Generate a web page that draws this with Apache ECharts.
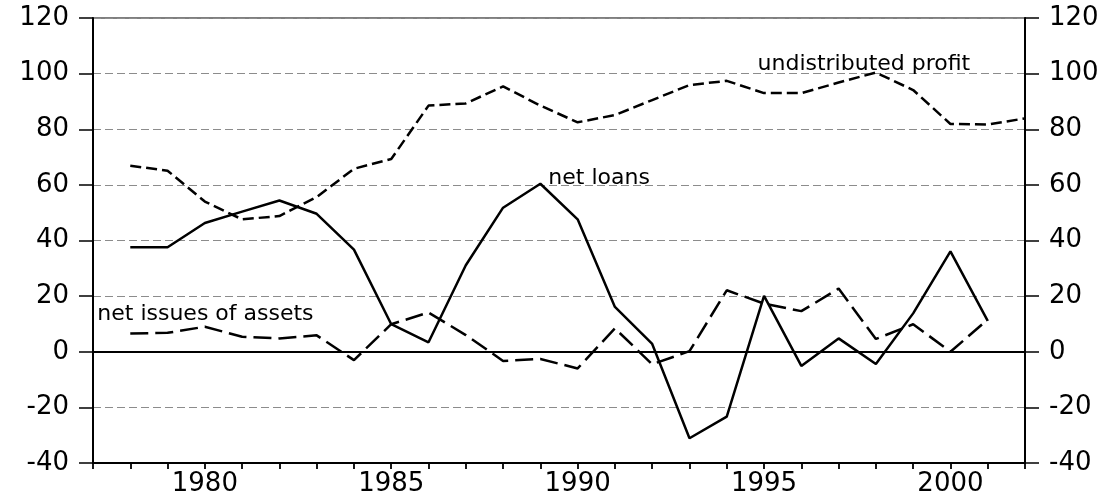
<!DOCTYPE html>
<html>
<head>
<meta charset="utf-8">
<script src="https://cdn.jsdelivr.net/npm/echarts@6/dist/echarts.min.js"></script>
<style>
html,body{margin:0;padding:0;background:#fff;}
#chart{width:1118px;height:499px;}
</style>
</head>
<body>
<div id="chart"></div>
<script>
var years = [1978,1979,1980,1981,1982,1983,1984,1985,1986,1987,1988,1989,1990,1991,1992,1993,1994,1995,1996,1997,1998,1999,2000,2001,2002];
var netLoans = [37.6,37.6,46.3,50.4,54.4,49.6,36.7,9.9,3.4,31.1,51.8,60.4,47.6,16.1,2.8,-31.1,-23.3,20.1,-5.1,4.8,-4.4,13.8,36.1,11.1];
var netIssues = [6.6,6.8,9.0,5.4,4.8,5.9,-3.0,9.9,14.1,6.0,-3.3,-2.6,-6.0,8.4,-4.5,0.2,22.1,17.3,14.6,22.7,4.6,9.9,0.0,11.6];
var undistributed = [66.9,65.1,54.0,47.6,48.8,55.6,65.8,69.3,88.5,89.3,95.4,88.5,82.5,85.1,90.5,95.9,97.4,93.0,93.0,96.8,100.4,94.1,81.9,81.7,83.9];
var yTicks = [-40,-20,0,20,40,60,80,100,120];
var xLabelYears = [1980,1985,1990,1995,2000];
var seriesNames = ['net loans','net issues of assets','undistributed profit'];

function pairs(vals){ return vals.map(function(v,i){ return [years[i], v]; }); }

var chart = echarts.init(document.getElementById('chart'), null, {renderer:'canvas'});
var FONT = 'DejaVu Sans';
function yAxisDef(pos, showSplit){
  return {
    type:'value', position:pos, min:yTicks[0], max:yTicks[yTicks.length-1], interval:20,
    axisLine:{show:true, onZero:false, lineStyle:{color:'#000', width:2}},
    axisTick:{show:true, inside:false, length:14, lineStyle:{color:'#000', width:1.5}},
    axisLabel:{show:true, margin:24, color:'#000', fontFamily:FONT, fontSize:26},
    splitLine:{show:showSplit, lineStyle:{color:'#8c8c8c', width:1, type:[8,4]}}
  };
}
var option = {
  animation:false,
  backgroundColor:'#fff',
  grid:{left:93, right:93, top:18, bottom:36, show:true, borderColor:'#000', borderWidth:1.2, backgroundColor:'transparent'},
  xAxis:{
    type:'value', min:1977, max:2002, interval:1,
    axisLine:{show:true, onZero:false, lineStyle:{color:'#000', width:2}},
    axisTick:{show:true, length:6, lineStyle:{color:'#000', width:1.8}},
    axisLabel:{show:true, margin:8, color:'#000', fontFamily:FONT, fontSize:26,
      formatter:function(v){ return xLabelYears.indexOf(v) >= 0 ? String(v) : ''; }},
    splitLine:{show:false}
  },
  yAxis:[ yAxisDef('left', true), yAxisDef('right', false) ],
  series:[
    {
      name:seriesNames[0], type:'line', data:pairs(netLoans), showSymbol:false, symbol:'none',
      lineStyle:{color:'#000', width:2.5, type:'solid'}, z:5,
      markLine:{silent:true, symbol:['none','none'], label:{show:false},
        lineStyle:{color:'#000', width:2, type:'solid'}, data:[{yAxis:0}]},
      markPoint:{silent:true, symbol:'circle', symbolSize:0,
        data:[{coord:[years[11], netLoans[11]], label:{show:true, formatter:seriesNames[0], position:'inside', align:'left', offset:[8,-5], color:'#000', fontFamily:FONT, fontSize:22}}]}
    },
    {
      name:seriesNames[1], type:'line', data:pairs(netIssues), showSymbol:false, symbol:'none',
      lineStyle:{color:'#000', width:2.5, type:[18,7]}, z:4,
      markPoint:{silent:true, symbol:'circle', symbolSize:0,
        data:[{coord:[years[0], netIssues[0]], label:{show:true, formatter:seriesNames[1], position:'inside', align:'left', offset:[-33,-19], color:'#000', fontFamily:FONT, fontSize:22}}]}
    },
    {
      name:seriesNames[2], type:'line', data:pairs(undistributed), showSymbol:false, symbol:'none',
      lineStyle:{color:'#000', width:2.5, type:[11,5]}, z:4,
      markPoint:{silent:true, symbol:'circle', symbolSize:0,
        data:[{coord:[years[20], undistributed[20]], label:{show:true, formatter:seriesNames[2], position:'inside', align:'center', offset:[-12,-8], color:'#000', fontFamily:FONT, fontSize:22}}]}
    }
  ]
};
chart.setOption(option);
</script>
</body>
</html>
